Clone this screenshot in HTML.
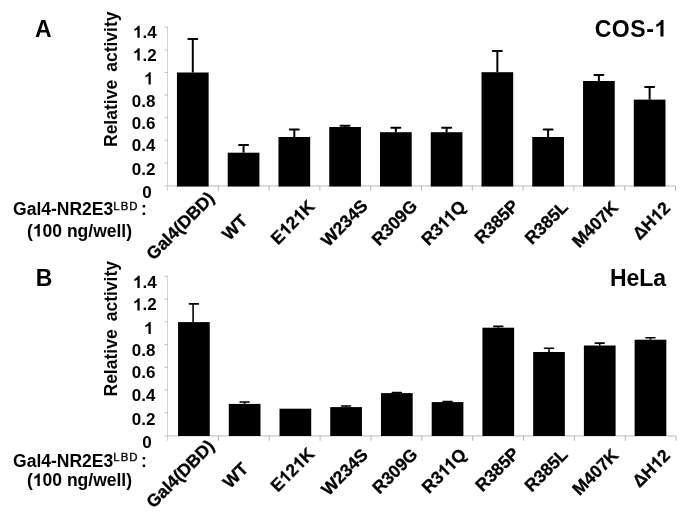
<!DOCTYPE html>
<html><head><meta charset="utf-8"><style>
html,body{margin:0;padding:0;background:#fff;width:700px;height:517px;overflow:hidden}
svg{display:block;will-change:transform}
text{font-family:"Liberation Sans",sans-serif;font-weight:bold;fill:#000}
.t17{font-size:17px}
.h{fill:transparent;stroke:none}
.tc{font-size:17.5px;stroke:#000;stroke-width:0.3px}
.t18{font-size:18px}
.t23{font-size:23px}
.sup{font-size:11.4px;font-weight:normal;letter-spacing:1px;stroke:#000;stroke-width:0.35px}
.tl{font-size:17.5px}
</style></head><body>
<svg width="700" height="517" viewBox="0 0 700 517">
<rect width="700" height="517" fill="#fff"/>
<path d="M167.5 26.80V190.80" stroke="#d2d2d2" stroke-width="1" fill="none"/>
<path d="M164.5 185.90H675.40" stroke="#cacaca" stroke-width="1.2" fill="none"/>
<path d="M164.5 162.90H167.5" stroke="#bdbdbd" stroke-width="1"/>
<path d="M164.5 140.30H167.5" stroke="#bdbdbd" stroke-width="1"/>
<path d="M164.5 117.70H167.5" stroke="#bdbdbd" stroke-width="1"/>
<path d="M164.5 95.10H167.5" stroke="#bdbdbd" stroke-width="1"/>
<path d="M164.5 72.50H167.5" stroke="#bdbdbd" stroke-width="1"/>
<path d="M164.5 49.90H167.5" stroke="#bdbdbd" stroke-width="1"/>
<path d="M164.5 27.30H167.5" stroke="#bdbdbd" stroke-width="1"/>
<path d="M218.30 186.0V190.8" stroke="#b4b4b4" stroke-width="1"/>
<path d="M269.10 186.0V190.8" stroke="#b4b4b4" stroke-width="1"/>
<path d="M319.90 186.0V190.8" stroke="#b4b4b4" stroke-width="1"/>
<path d="M370.70 186.0V190.8" stroke="#b4b4b4" stroke-width="1"/>
<path d="M421.50 186.0V190.8" stroke="#b4b4b4" stroke-width="1"/>
<path d="M472.30 186.0V190.8" stroke="#b4b4b4" stroke-width="1"/>
<path d="M523.10 186.0V190.8" stroke="#b4b4b4" stroke-width="1"/>
<path d="M573.90 186.0V190.8" stroke="#b4b4b4" stroke-width="1"/>
<path d="M624.70 186.0V190.8" stroke="#b4b4b4" stroke-width="1"/>
<path d="M675.50 186.0V190.8" stroke="#b4b4b4" stroke-width="1"/>
<rect x="176.95" y="72.50" width="31.7" height="114.00" fill="#000"/>
<path d="M192.80 72.50V39.00" stroke="#000" stroke-width="2" fill="none"/>
<path d="M188.30 39.00H197.30" stroke="#000" stroke-width="2" stroke-linecap="round" fill="none"/>
<rect x="227.71" y="152.70" width="31.7" height="33.80" fill="#000"/>
<path d="M243.56 152.70V144.90" stroke="#000" stroke-width="2" fill="none"/>
<path d="M239.06 144.90H248.06" stroke="#000" stroke-width="2" stroke-linecap="round" fill="none"/>
<rect x="278.47" y="137.00" width="31.7" height="49.50" fill="#000"/>
<path d="M294.32 137.00V129.50" stroke="#000" stroke-width="2" fill="none"/>
<path d="M289.82 129.50H298.82" stroke="#000" stroke-width="2" stroke-linecap="round" fill="none"/>
<rect x="329.23" y="127.00" width="31.7" height="59.50" fill="#000"/>
<path d="M345.08 127.00V125.80" stroke="#000" stroke-width="2" fill="none"/>
<path d="M340.58 125.80H349.58" stroke="#000" stroke-width="2" stroke-linecap="round" fill="none"/>
<rect x="379.99" y="132.20" width="31.7" height="54.30" fill="#000"/>
<path d="M395.84 132.20V127.80" stroke="#000" stroke-width="2" fill="none"/>
<path d="M391.34 127.80H400.34" stroke="#000" stroke-width="2" stroke-linecap="round" fill="none"/>
<rect x="430.75" y="132.20" width="31.7" height="54.30" fill="#000"/>
<path d="M446.60 132.20V127.80" stroke="#000" stroke-width="2" fill="none"/>
<path d="M442.10 127.80H451.10" stroke="#000" stroke-width="2" stroke-linecap="round" fill="none"/>
<rect x="481.51" y="72.20" width="31.7" height="114.30" fill="#000"/>
<path d="M497.36 72.20V51.00" stroke="#000" stroke-width="2" fill="none"/>
<path d="M492.86 51.00H501.86" stroke="#000" stroke-width="2" stroke-linecap="round" fill="none"/>
<rect x="532.27" y="137.00" width="31.7" height="49.50" fill="#000"/>
<path d="M548.12 137.00V129.60" stroke="#000" stroke-width="2" fill="none"/>
<path d="M543.62 129.60H552.62" stroke="#000" stroke-width="2" stroke-linecap="round" fill="none"/>
<rect x="583.03" y="81.00" width="31.7" height="105.50" fill="#000"/>
<path d="M598.88 81.00V74.90" stroke="#000" stroke-width="2" fill="none"/>
<path d="M594.38 74.90H603.38" stroke="#000" stroke-width="2" stroke-linecap="round" fill="none"/>
<rect x="633.79" y="99.60" width="31.7" height="86.90" fill="#000"/>
<path d="M649.64 99.60V86.90" stroke="#000" stroke-width="2" fill="none"/>
<path d="M645.14 86.90H654.14" stroke="#000" stroke-width="2" stroke-linecap="round" fill="none"/>
<path d="M167.5 275.80V440.80" stroke="#d2d2d2" stroke-width="1" fill="none"/>
<path d="M164.5 435.90H676.10" stroke="#cacaca" stroke-width="1.2" fill="none"/>
<path d="M164.5 412.76H167.5" stroke="#bdbdbd" stroke-width="1"/>
<path d="M164.5 390.01H167.5" stroke="#bdbdbd" stroke-width="1"/>
<path d="M164.5 367.27H167.5" stroke="#bdbdbd" stroke-width="1"/>
<path d="M164.5 344.53H167.5" stroke="#bdbdbd" stroke-width="1"/>
<path d="M164.5 321.79H167.5" stroke="#bdbdbd" stroke-width="1"/>
<path d="M164.5 299.04H167.5" stroke="#bdbdbd" stroke-width="1"/>
<path d="M164.5 276.30H167.5" stroke="#bdbdbd" stroke-width="1"/>
<path d="M218.36 436.0V440.8" stroke="#b4b4b4" stroke-width="1"/>
<path d="M269.22 436.0V440.8" stroke="#b4b4b4" stroke-width="1"/>
<path d="M320.08 436.0V440.8" stroke="#b4b4b4" stroke-width="1"/>
<path d="M370.94 436.0V440.8" stroke="#b4b4b4" stroke-width="1"/>
<path d="M421.80 436.0V440.8" stroke="#b4b4b4" stroke-width="1"/>
<path d="M472.66 436.0V440.8" stroke="#b4b4b4" stroke-width="1"/>
<path d="M523.52 436.0V440.8" stroke="#b4b4b4" stroke-width="1"/>
<path d="M574.38 436.0V440.8" stroke="#b4b4b4" stroke-width="1"/>
<path d="M625.24 436.0V440.8" stroke="#b4b4b4" stroke-width="1"/>
<path d="M676.10 436.0V440.8" stroke="#b4b4b4" stroke-width="1"/>
<rect x="178.05" y="322.10" width="31.7" height="113.90" fill="#000"/>
<path d="M193.10 322.10V303.90" stroke="#000" stroke-width="1.6" fill="none"/>
<path d="M189.40 303.90H198.40" stroke="#000" stroke-width="1.6" stroke-linecap="round" fill="none"/>
<rect x="228.78" y="403.90" width="31.7" height="32.10" fill="#000"/>
<path d="M244.63 403.90V402.00" stroke="#000" stroke-width="1.6" fill="none"/>
<path d="M240.13 402.00H249.13" stroke="#000" stroke-width="1.6" stroke-linecap="round" fill="none"/>
<rect x="279.51" y="408.70" width="31.7" height="27.30" fill="#000"/>
<rect x="330.24" y="407.10" width="31.7" height="28.90" fill="#000"/>
<path d="M346.09 407.10V406.00" stroke="#000" stroke-width="1.6" fill="none"/>
<path d="M341.59 406.00H350.59" stroke="#000" stroke-width="1.6" stroke-linecap="round" fill="none"/>
<rect x="380.97" y="393.10" width="31.7" height="42.90" fill="#000"/>
<path d="M396.82 393.10V392.60" stroke="#000" stroke-width="1.6" fill="none"/>
<path d="M392.32 392.60H401.32" stroke="#000" stroke-width="1.6" stroke-linecap="round" fill="none"/>
<rect x="431.70" y="402.10" width="31.7" height="33.90" fill="#000"/>
<path d="M447.55 402.10V401.50" stroke="#000" stroke-width="1.6" fill="none"/>
<path d="M443.05 401.50H452.05" stroke="#000" stroke-width="1.6" stroke-linecap="round" fill="none"/>
<rect x="482.43" y="327.70" width="31.7" height="108.30" fill="#000"/>
<path d="M498.28 327.70V326.40" stroke="#000" stroke-width="1.6" fill="none"/>
<path d="M493.78 326.40H502.78" stroke="#000" stroke-width="1.6" stroke-linecap="round" fill="none"/>
<rect x="533.16" y="352.00" width="31.7" height="84.00" fill="#000"/>
<path d="M549.01 352.00V348.30" stroke="#000" stroke-width="1.6" fill="none"/>
<path d="M544.51 348.30H553.51" stroke="#000" stroke-width="1.6" stroke-linecap="round" fill="none"/>
<rect x="583.89" y="345.50" width="31.7" height="90.50" fill="#000"/>
<path d="M599.74 345.50V343.10" stroke="#000" stroke-width="1.6" fill="none"/>
<path d="M595.24 343.10H604.24" stroke="#000" stroke-width="1.6" stroke-linecap="round" fill="none"/>
<rect x="634.62" y="339.70" width="31.7" height="96.30" fill="#000"/>
<path d="M650.47 339.70V337.80" stroke="#000" stroke-width="1.6" fill="none"/>
<path d="M645.97 337.80H654.97" stroke="#000" stroke-width="1.6" stroke-linecap="round" fill="none"/>
<text x="151.6" y="198.00" text-anchor="end" class="t17">0</text>
<text x="155.5" y="175.20" text-anchor="end" class="t17">0.2</text>
<text x="155.5" y="151.20" text-anchor="end" class="t17">0.4</text>
<text x="155.5" y="128.80" text-anchor="end" class="t17">0.6</text>
<text x="155.5" y="106.70" text-anchor="end" class="t17">0.8</text>
<text x="153.5" y="84.40" text-anchor="end" class="t17"><tspan class="h">1</tspan></text>
<text x="156.6" y="60.50" text-anchor="end" class="t17"><tspan class="h">1</tspan>.2</text>
<text x="156.6" y="37.80" text-anchor="end" class="t17"><tspan class="h">1</tspan>.4</text>
<text x="151.6" y="447.90" text-anchor="end" class="t17">0</text>
<text x="155.5" y="424.80" text-anchor="end" class="t17">0.2</text>
<text x="155.5" y="400.90" text-anchor="end" class="t17">0.4</text>
<text x="155.5" y="377.90" text-anchor="end" class="t17">0.6</text>
<text x="155.5" y="355.70" text-anchor="end" class="t17">0.8</text>
<text x="153.5" y="334.10" text-anchor="end" class="t17"><tspan class="h">1</tspan></text>
<text x="156.6" y="310.40" text-anchor="end" class="t17"><tspan class="h">1</tspan>.2</text>
<text x="156.6" y="288.00" text-anchor="end" class="t17"><tspan class="h">1</tspan>.4</text>
<text transform="translate(116.5 147) rotate(-90)" class="tl" word-spacing="3.2">Relative activity</text>
<text transform="translate(116.5 396.5) rotate(-90)" class="tl" word-spacing="3.2">Relative activity</text>
<text x="35" y="37" class="t23">A</text>
<text x="35.7" y="286" class="t23">B</text>
<text x="594.7" y="36.5" class="t23" letter-spacing="0.55">COS-<tspan class="h">1</tspan></text>
<text x="609.9" y="286" class="t23">HeLa</text>
<text x="13.04" y="214.6" class="tl">Gal4-NR2E3</text>
<text x="113.3" y="209.5" class="sup">LBD</text>
<text x="140.9" y="214.7" class="tl">:</text>
<text x="27.03" y="236.5" class="tl">(<tspan class="h">1</tspan>00 ng/well)</text>
<text x="13.04" y="466.5" class="tl">Gal4-NR2E3</text>
<text x="113.3" y="460.8" class="sup">LBD</text>
<text x="140.9" y="466.6" class="tl">:</text>
<text x="27.03" y="486.1" class="tl">(<tspan class="h">1</tspan>00 ng/well)</text>
<text transform="translate(215.50 199.10) rotate(-45)" text-anchor="end" class="tc">Gal4(DBD)</text>
<text transform="translate(248.60 222.00) rotate(-45)" text-anchor="end" class="tc">WT</text>
<text transform="translate(315.80 207.60) rotate(-45)" text-anchor="end" class="tc">E<tspan class="h">1</tspan>2<tspan class="h">1</tspan>K</text>
<text transform="translate(368.80 206.90) rotate(-45)" text-anchor="end" class="tc">W234S</text>
<text transform="translate(418.30 207.20) rotate(-45)" text-anchor="end" class="tc">R309G</text>
<text transform="translate(467.00 207.70) rotate(-45)" text-anchor="end" class="tc">R3<tspan class="h">1</tspan><tspan class="h">1</tspan>Q</text>
<text transform="translate(519.70 206.90) rotate(-45)" text-anchor="end" class="tc">R385P</text>
<text transform="translate(569.10 208.20) rotate(-45)" text-anchor="end" class="tc">R385L</text>
<text transform="translate(619.20 208.60) rotate(-45)" text-anchor="end" class="tc">M407K</text>
<text transform="translate(671.30 209.10) rotate(-45)" text-anchor="end" class="tc">ΔH<tspan class="h">1</tspan>2</text>
<text transform="translate(215.30 447.20) rotate(-45)" text-anchor="end" class="tc">Gal4(DBD)</text>
<text transform="translate(249.20 470.00) rotate(-45)" text-anchor="end" class="tc">WT</text>
<text transform="translate(315.50 455.00) rotate(-45)" text-anchor="end" class="tc">E<tspan class="h">1</tspan>2<tspan class="h">1</tspan>K</text>
<text transform="translate(369.00 455.90) rotate(-45)" text-anchor="end" class="tc">W234S</text>
<text transform="translate(418.70 455.60) rotate(-45)" text-anchor="end" class="tc">R309G</text>
<text transform="translate(467.50 455.60) rotate(-45)" text-anchor="end" class="tc">R3<tspan class="h">1</tspan><tspan class="h">1</tspan>Q</text>
<text transform="translate(520.30 454.70) rotate(-45)" text-anchor="end" class="tc">R385P</text>
<text transform="translate(568.90 455.70) rotate(-45)" text-anchor="end" class="tc">R385L</text>
<text transform="translate(619.50 456.30) rotate(-45)" text-anchor="end" class="tc">M407K</text>
<text transform="translate(671.20 456.70) rotate(-45)" text-anchor="end" class="tc">ΔH<tspan class="h">1</tspan>2</text>
<path transform="translate(144.03 84.40) scale(17 -17)" d="M0.396 0L0.262 0L0.262 0.506C0.21 0.46 0.15 0.425 0.081 0.408L0.081 0.530C0.17 0.56 0.25 0.62 0.30 0.716L0.396 0.716Z"/>
<path transform="translate(132.94 60.50) scale(17 -17)" d="M0.396 0L0.262 0L0.262 0.506C0.21 0.46 0.15 0.425 0.081 0.408L0.081 0.530C0.17 0.56 0.25 0.62 0.30 0.716L0.396 0.716Z"/>
<path transform="translate(132.94 37.80) scale(17 -17)" d="M0.396 0L0.262 0L0.262 0.506C0.21 0.46 0.15 0.425 0.081 0.408L0.081 0.530C0.17 0.56 0.25 0.62 0.30 0.716L0.396 0.716Z"/>
<path transform="translate(144.03 334.10) scale(17 -17)" d="M0.396 0L0.262 0L0.262 0.506C0.21 0.46 0.15 0.425 0.081 0.408L0.081 0.530C0.17 0.56 0.25 0.62 0.30 0.716L0.396 0.716Z"/>
<path transform="translate(132.94 310.40) scale(17 -17)" d="M0.396 0L0.262 0L0.262 0.506C0.21 0.46 0.15 0.425 0.081 0.408L0.081 0.530C0.17 0.56 0.25 0.62 0.30 0.716L0.396 0.716Z"/>
<path transform="translate(132.94 288.00) scale(17 -17)" d="M0.396 0L0.262 0L0.262 0.506C0.21 0.46 0.15 0.425 0.081 0.408L0.081 0.530C0.17 0.56 0.25 0.62 0.30 0.716L0.396 0.716Z"/>
<path transform="translate(654.40 36.50) scale(23 -23)" d="M0.396 0L0.262 0L0.262 0.506C0.21 0.46 0.15 0.425 0.081 0.408L0.081 0.530C0.17 0.56 0.25 0.62 0.30 0.716L0.396 0.716Z"/>
<path transform="translate(32.86 236.50) scale(17.5 -17.5)" d="M0.396 0L0.262 0L0.262 0.506C0.21 0.46 0.15 0.425 0.081 0.408L0.081 0.530C0.17 0.56 0.25 0.62 0.30 0.716L0.396 0.716Z"/>
<path transform="translate(32.86 486.10) scale(17.5 -17.5)" d="M0.396 0L0.262 0L0.262 0.506C0.21 0.46 0.15 0.425 0.081 0.408L0.081 0.530C0.17 0.56 0.25 0.62 0.30 0.716L0.396 0.716Z"/>
<path transform="translate(315.80 207.60) rotate(-45) translate(-41.84 0.00) scale(17.5 -17.5)" d="M0.396 0L0.262 0L0.262 0.506C0.21 0.46 0.15 0.425 0.081 0.408L0.081 0.530C0.17 0.56 0.25 0.62 0.30 0.716L0.396 0.716Z" stroke="#000" stroke-width="0.0171"/>
<path transform="translate(315.80 207.60) rotate(-45) translate(-22.38 0.00) scale(17.5 -17.5)" d="M0.396 0L0.262 0L0.262 0.506C0.21 0.46 0.15 0.425 0.081 0.408L0.081 0.530C0.17 0.56 0.25 0.62 0.30 0.716L0.396 0.716Z" stroke="#000" stroke-width="0.0171"/>
<path transform="translate(467.00 207.70) rotate(-45) translate(-32.14 0.00) scale(17.5 -17.5)" d="M0.396 0L0.262 0L0.262 0.506C0.21 0.46 0.15 0.425 0.081 0.408L0.081 0.530C0.17 0.56 0.25 0.62 0.30 0.716L0.396 0.716Z" stroke="#000" stroke-width="0.0171"/>
<path transform="translate(467.00 207.70) rotate(-45) translate(-23.36 0.00) scale(17.5 -17.5)" d="M0.396 0L0.262 0L0.262 0.506C0.21 0.46 0.15 0.425 0.081 0.408L0.081 0.530C0.17 0.56 0.25 0.62 0.30 0.716L0.396 0.716Z" stroke="#000" stroke-width="0.0171"/>
<path transform="translate(671.30 209.10) rotate(-45) translate(-19.47 0.00) scale(17.5 -17.5)" d="M0.396 0L0.262 0L0.262 0.506C0.21 0.46 0.15 0.425 0.081 0.408L0.081 0.530C0.17 0.56 0.25 0.62 0.30 0.716L0.396 0.716Z" stroke="#000" stroke-width="0.0171"/>
<path transform="translate(315.50 455.00) rotate(-45) translate(-41.84 0.00) scale(17.5 -17.5)" d="M0.396 0L0.262 0L0.262 0.506C0.21 0.46 0.15 0.425 0.081 0.408L0.081 0.530C0.17 0.56 0.25 0.62 0.30 0.716L0.396 0.716Z" stroke="#000" stroke-width="0.0171"/>
<path transform="translate(315.50 455.00) rotate(-45) translate(-22.38 0.00) scale(17.5 -17.5)" d="M0.396 0L0.262 0L0.262 0.506C0.21 0.46 0.15 0.425 0.081 0.408L0.081 0.530C0.17 0.56 0.25 0.62 0.30 0.716L0.396 0.716Z" stroke="#000" stroke-width="0.0171"/>
<path transform="translate(467.50 455.60) rotate(-45) translate(-32.14 0.00) scale(17.5 -17.5)" d="M0.396 0L0.262 0L0.262 0.506C0.21 0.46 0.15 0.425 0.081 0.408L0.081 0.530C0.17 0.56 0.25 0.62 0.30 0.716L0.396 0.716Z" stroke="#000" stroke-width="0.0171"/>
<path transform="translate(467.50 455.60) rotate(-45) translate(-23.36 0.00) scale(17.5 -17.5)" d="M0.396 0L0.262 0L0.262 0.506C0.21 0.46 0.15 0.425 0.081 0.408L0.081 0.530C0.17 0.56 0.25 0.62 0.30 0.716L0.396 0.716Z" stroke="#000" stroke-width="0.0171"/>
<path transform="translate(671.20 456.70) rotate(-45) translate(-19.47 0.00) scale(17.5 -17.5)" d="M0.396 0L0.262 0L0.262 0.506C0.21 0.46 0.15 0.425 0.081 0.408L0.081 0.530C0.17 0.56 0.25 0.62 0.30 0.716L0.396 0.716Z" stroke="#000" stroke-width="0.0171"/>
</svg>
</body></html>
